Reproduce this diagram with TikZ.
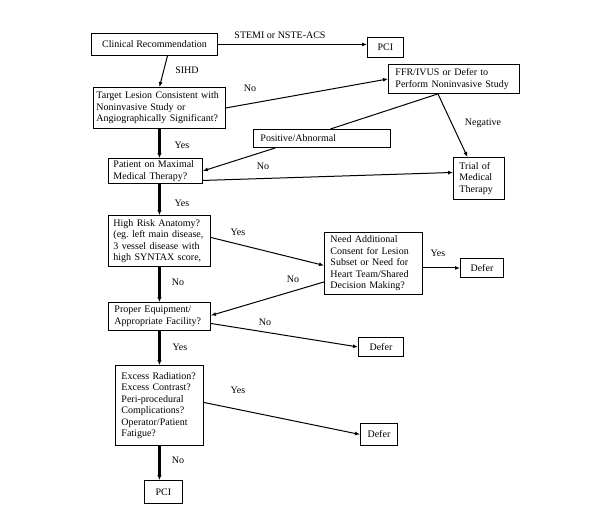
\documentclass[tikz,border=0pt]{standalone}
\usepackage{fontspec}
\setmainfont{Liberation Serif}
\usetikzlibrary{arrows.meta,calc}
\hyphenpenalty=10000
\exhyphenpenalty=10000
\frenchspacing
\begin{document}
\begin{tikzpicture}[x=1pt,y=-1pt,
  box/.style={draw, line width=0.9pt, anchor=north west, align=left, inner ysep=1pt,
    font=\fontsize{10}{11.5}\selectfont},
  cbox/.style={box, align=center, inner xsep=0pt},
  lbl/.style={font=\fontsize{10}{11.5}\selectfont, inner sep=0pt},
  conn/.style={line width=1pt, -{Latex[length=5pt,width=4pt]}},
  plain/.style={line width=1pt},
  main/.style={line width=2.2pt, -{Latex[length=5pt,width=4.5pt]}}]
\useasboundingbox (0,0) rectangle (609,513);
% boxes
\node[cbox, minimum width=126pt, minimum height=22pt] (clin) at (91,33) {Clinical Recommendation};
\node[cbox, minimum width=36pt, minimum height=20pt] (pci1) at (367,37) {PCI};
\node[box, inner xsep=3pt, text width=126pt, minimum height=41pt] (target) at (93,87)
  {Target Lesion Consistent with\\Noninvasive Study or\\Angiographically Significant?};
\node[box, inner xsep=7pt, text width=117pt, minimum height=29pt] (ffr) at (388,64)
  {FFR/IVUS or Defer to\\Perform Noninvasive Study};
\node[box, inner xsep=7pt, text width=123pt, minimum height=18pt] (pos) at (253,129)
  {Positive/Abnormal};
\node[box, inner xsep=6pt, text width=39pt, minimum height=42pt] (trial) at (453,157)
  {Trial of\\Medical\\Therapy};
\node[box, inner xsep=5pt, text width=84pt, minimum height=25pt] (patient) at (108,158)
  {Patient on Maximal\\Medical Therapy?};
\node[box, inner xsep=5pt, text width=92pt, minimum height=51pt] (hr) at (108,215)
  {High Risk Anatomy?\\(eg. left main disease,\\3 vessel disease with\\high SYNTAX score,};
\node[box, inner xsep=6pt, text width=86pt, minimum height=62pt] (need) at (324,232)
  {Need Additional\\Consent for Lesion\\Subset or Need for\\Heart Team/Shared\\Decision Making?};
\node[cbox, minimum width=43pt, minimum height=19pt] (defer1) at (460,258) {Defer};
\node[box, inner xsep=6pt, text width=90pt, minimum height=28pt] (proper) at (108,302)
  {Proper Equipment/\\Appropriate Facility?};
\node[cbox, minimum width=45pt, minimum height=19pt] (defer2) at (358,337) {Defer};
\node[box, inner xsep=6pt, text width=76pt, minimum height=80pt] (excess) at (115,365)
  {Excess Radiation?\\Excess Contrast?\\Peri-procedural\\Complications?\\Operator/Patient\\Fatigue?};
\node[cbox, minimum width=37pt, minimum height=22pt] (defer3) at (360,423) {Defer};
\node[cbox, minimum width=38pt, minimum height=23pt] (pci2) at (144,480) {PCI};
% labels
\node[lbl] (l1) at (280,35) {STEMI or NSTE-ACS};
\node[lbl] (l2) at (187,70) {SIHD};
\node[lbl] (l3) at (250,88) {No};
\node[lbl] (l4) at (182,145) {Yes};
\node[lbl] (l5) at (483,123) {Negative};
\node[lbl] (l6) at (263,166) {No};
\node[lbl] (l7) at (182,203) {Yes};
\node[lbl] (l8) at (238,232) {Yes};
\node[lbl] (l9) at (293,279) {No};
\node[lbl] (l10) at (438,253) {Yes};
\node[lbl] (l11) at (178,282) {No};
\node[lbl] (l12) at (265,322) {No};
\node[lbl] (l13) at (180,347) {Yes};
\node[lbl] (l14) at (238,390) {Yes};
\node[lbl] (l15) at (178,460) {No};
% connectors
\draw[conn] (clin.east) -- (pci1.west |- clin.east);
\draw[conn] ([xshift=13pt]clin.south) -- (target.north);
\draw[conn] (target.east) -- (ffr.west);
\draw[plain] ([xshift=-16pt]ffr.south) -- ([xshift=8.5pt]pos.north);
\draw[conn] ([xshift=-46.5pt]pos.south) -- (patient.east);
\draw[conn] ([xshift=-16pt]ffr.south) -- ([xshift=-11.5pt]trial.north);
\draw[conn] ([yshift=-9.5pt]patient.east) -- ([yshift=6pt]trial.west);
\draw[main] (target.south) -- (target.south |- patient.north);
\draw[main] (patient.south -| target.south) -- (hr.north -| target.south);
\draw[conn] ([yshift=3.5pt]hr.east) -- ([yshift=-2pt]need.west);
\draw[conn] ([yshift=-18.5pt]need.west) -- ([yshift=1pt]proper.east);
\draw[conn] (need.east |- defer1.west) -- (defer1.west);
\draw[main] (hr.south -| target.south) -- (proper.north -| target.south);
\draw[conn] ([yshift=-7pt]proper.east) -- (defer2.west);
\draw[main] (proper.south -| target.south) -- (excess.north -| target.south);
\draw[conn] ([yshift=3pt]excess.east) -- (defer3.west);
\draw[main] (excess.south -| target.south) -- (pci2.north -| target.south);
\end{tikzpicture}
\end{document}
